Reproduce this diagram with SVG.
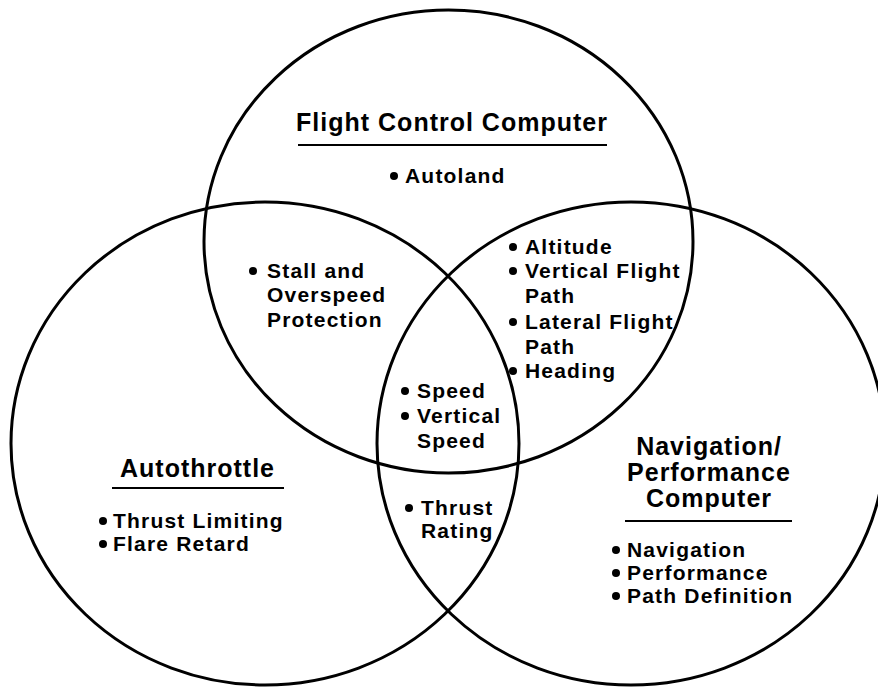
<svg xmlns="http://www.w3.org/2000/svg" width="878" height="687" viewBox="0 0 878 687">
<style>
.c{fill:none;stroke:#000;stroke-width:3}
.h{font-family:"Liberation Sans",Arial,sans-serif;font-weight:bold;font-size:25px;letter-spacing:1px;fill:#000}
.t{font-family:"Liberation Sans",Arial,sans-serif;font-weight:bold;font-size:21px;letter-spacing:1.2px;fill:#000}
.u{stroke:#000;stroke-width:2}
.b{fill:#000}
</style>
<rect width="878" height="687" fill="#fff"/>
<g id="connectors"></g>
<g id="fcc">
<ellipse class="c" cx="448.5" cy="241.5" rx="244.5" ry="231.5"/>
<text class="h" x="452" y="131" text-anchor="middle">Flight Control Computer</text>
<line class="u" x1="298" y1="145" x2="607" y2="145"/>
<circle class="b" cx="394" cy="176" r="4"/>
<text class="t" x="405" y="183">Autoland</text>
</g>
<g id="autothrottle">
<ellipse class="c" cx="265" cy="443.5" rx="254" ry="241.5"/>
<text class="h" x="120" y="477">Autothrottle</text>
<line class="u" x1="112" y1="488" x2="284" y2="488"/>
<circle class="b" cx="103" cy="521" r="4"/>
<text class="t" x="113" y="528">Thrust Limiting</text>
<circle class="b" cx="103" cy="544" r="4"/>
<text class="t" x="113" y="551">Flare Retard</text>
</g>
<g id="navperf">
<ellipse class="c" cx="631" cy="443.5" rx="254" ry="241.5"/>
<text class="h" x="709" y="455" text-anchor="middle">Navigation/</text>
<text class="h" x="709" y="481" text-anchor="middle">Performance</text>
<text class="h" x="709" y="507" text-anchor="middle">Computer</text>
<line class="u" x1="625" y1="521" x2="792" y2="521"/>
<circle class="b" cx="616" cy="550" r="4"/>
<text class="t" x="627" y="557">Navigation</text>
<circle class="b" cx="616" cy="573" r="4"/>
<text class="t" x="627" y="580">Performance</text>
<circle class="b" cx="616" cy="596" r="4"/>
<text class="t" x="627" y="603">Path Definition</text>
</g>
<g id="fcc-at">
<circle class="b" cx="253" cy="271" r="4"/>
<text class="t" x="267" y="278">Stall and</text>
<text class="t" x="267" y="302">Overspeed</text>
<text class="t" x="267" y="327">Protection</text>
</g>
<g id="fcc-nav">
<circle class="b" cx="513" cy="247" r="4"/>
<text class="t" x="525" y="254">Altitude</text>
<circle class="b" cx="513" cy="271" r="4"/>
<text class="t" x="525" y="278">Vertical Flight</text>
<text class="t" x="525" y="303">Path</text>
<circle class="b" cx="513" cy="322" r="4"/>
<text class="t" x="525" y="329">Lateral Flight</text>
<text class="t" x="525" y="354">Path</text>
<circle class="b" cx="513" cy="371" r="4"/>
<text class="t" x="525" y="378">Heading</text>
</g>
<g id="all">
<circle class="b" cx="405" cy="391" r="4"/>
<text class="t" x="417" y="398">Speed</text>
<circle class="b" cx="405" cy="416" r="4"/>
<text class="t" x="417" y="423">Vertical</text>
<text class="t" x="417" y="448">Speed</text>
</g>
<g id="at-nav">
<circle class="b" cx="409" cy="508" r="4"/>
<text class="t" x="421" y="515">Thrust</text>
<text class="t" x="421" y="538">Rating</text>
</g>
</svg>
